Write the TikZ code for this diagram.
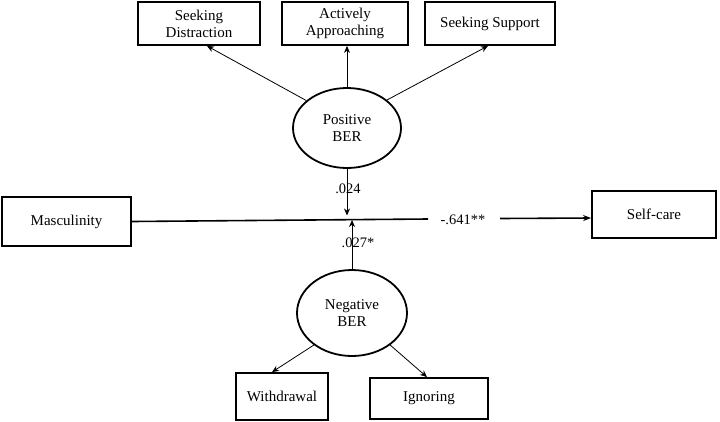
\documentclass[tikz,border=0pt]{standalone}
\usepackage{fontspec}
\setmainfont{Liberation Serif}
\usetikzlibrary{arrows.meta,shapes.geometric}
\begin{document}
\begin{tikzpicture}[x=1pt,y=-1pt,
  txt/.style={font=\fontsize{15}{17}\selectfont},
  box/.style={txt,draw,line width=1.8pt,inner sep=0pt,align=center},
  lat/.style={txt,draw,ellipse,line width=1.8pt,inner sep=0pt,align=center},
  arr/.style={-{Stealth[length=7pt,width=6pt]},line width=0.8pt},
  lbl/.style={font=\fontsize{14.5}{16}\selectfont,inner sep=0pt}]
\useasboundingbox (0,0) rectangle (720,421);
% indicator boxes
\node[box,minimum width=122pt,minimum height=43pt] (sd) at (199,23.5) {Seeking\\Distraction};
\node[box,minimum width=126pt,minimum height=43pt] (aa) at (345,23.5) {Actively\\Approaching};
\node[box,minimum width=130pt,minimum height=43pt] (ss) at (490,23.5) {Seeking Support};
\node[lat,minimum width=108pt,minimum height=80pt] (pos) at (347,128) {Positive\\BER};
\node[box,minimum width=129pt,minimum height=49pt] (mas) at (66.5,221.5) {Masculinity};
\node[box,minimum width=124pt,minimum height=47pt] (sc) at (654,214.5) {Self-care};
\node[lat,minimum width=110pt,minimum height=86pt] (neg) at (352,313) {Negative\\BER};
\node[box,minimum width=92pt,minimum height=47pt] (wd) at (282,396.5) {Withdrawal};
\node[box,minimum width=118pt,minimum height=41pt] (ig) at (429,398.5) {Ignoring};
% coordinates on the main path
\coordinate (gl) at (428,219);
\coordinate (gr) at (500,218.5);
\coordinate (m1) at (348,215.5);
\coordinate (m2) at (351,220);
% main path
\draw[line width=1.6pt] (mas.east) -- (gl);
\draw[line width=1.6pt,-{Stealth[length=8pt,width=6pt]}] (gr) -- ([yshift=-3.5pt]sc.west);
\node[lbl] (c) at (463,220) {-.641**};
% positive indicators
\draw[arr] (pos.146) -- ([xshift=8pt]sd.south);
\draw[arr] (pos.north) -- (pos.north |- aa.south);
\draw[arr] (pos.35) -- ([xshift=-2pt]ss.south);
% negative indicators
\draw[arr] (neg.220) -- ([xshift=-10pt]wd.north);
\draw[arr] (neg.320) -- ([xshift=-2pt]ig.north);
% moderation arrows
\draw[arr] (pos.south) -- (pos.south |- m1);
\draw[arr] (neg.north) -- (neg.north |- m2);
\node[lbl] (a) at (348,189) {.024};
\node[lbl] (b) at (358,243) {.027*};
\end{tikzpicture}
\end{document}
